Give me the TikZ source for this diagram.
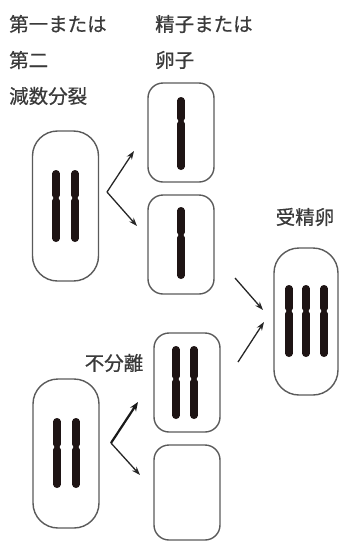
\documentclass[tikz,border=0pt]{standalone}
\usepackage{fontspec}
\setmainfont{Noto Sans CJK JP}[FakeBold=0.6]
\usetikzlibrary{arrows.meta}
\definecolor{chromcol}{HTML}{1E1414}
\definecolor{boxline}{HTML}{5A5A5A}
\definecolor{labelcol}{HTML}{3A3A3A}

% one chromosome: x, top, bottom, centromere (page units, y downward)
\newcommand\chromosome[4]{%
  \draw[line width=7.4pt, line cap=round, chromcol] (#1,#2+3.7) -- (#1,#3-3.7);
  \fill[white] (#1-3.9,#4-2.4) -- (#1-2.7,#4) -- (#1-3.9,#4+2.4) -- cycle;
  \fill[white] (#1+3.9,#4-2.4) -- (#1+2.7,#4) -- (#1+3.9,#4+2.4) -- cycle;
}

\begin{document}
\begin{tikzpicture}[x=1pt, y=-1pt,
  cellbox/.style={draw=boxline, line width=1.4pt, rounded corners=15pt,
    minimum width=66pt, minimum height=99pt, inner sep=0pt},
  bigcell/.style={cellbox, rounded corners=25pt, minimum height=150pt},
  label/.style={font=\fontsize{19.5pt}{20pt}\selectfont, text=labelcol,
    inner sep=0pt, anchor=west},
  arrowline/.style={line width=1.3pt, draw=black!85,
    -{Stealth[length=8.5pt, width=6pt]}},
  thickarrow/.style={line width=2.2pt, draw=black!90,
    -{Stealth[length=9pt, width=7pt]}}]

\useasboundingbox (0,0) rectangle (339,542);

% headings
\node[label] (h1a) at (9,24) {第一または};
\node[label] (h1b) at (9,60) {第二};
\node[label] (h1c) at (9,96) {減数分裂};
\node[label] (h2a) at (155,24) {精子または};
\node[label] (h2b) at (155,60) {卵子};
\node[label, anchor=center] (hz) at (305,217) {受精卵};
\node[label, anchor=center] (hn) at (114,363) {不分離};

% cells
\node[bigcell] (L1) at (65.5,206) {};
\node[cellbox] (S1) at (181,132.5) {};
\node[cellbox] (S2) at (181,244.5) {};
\node[bigcell, minimum height=149pt] (L2) at (66,453.5) {};
\node[cellbox] (N1) at (187,382.5) {};
\node[cellbox, minimum height=95pt] (N2) at (187,492.5) {};
\node[bigcell, minimum width=64pt, minimum height=147pt] (Z) at (306,321.5) {};

% chromosomes
\chromosome{56}{170}{242}{198}
\chromosome{75}{170}{242}{198}
\chromosome{181}{97}{170}{121}
\chromosome{181}{207}{279}{235}
\chromosome{57}{418}{488}{447}
\chromosome{76}{418}{488}{447}
\chromosome{176}{346}{419}{379}
\chromosome{194}{346}{419}{379}
\chromosome{289}{285}{357}{311}
\chromosome{306}{285}{357}{311}
\chromosome{324}{285}{357}{311}

% arrow end points
\coordinate (a1) at (107,192);
\coordinate (a1u) at (134,151);
\coordinate (a1d) at (137,226);
\coordinate (a2) at (111,443);
\coordinate (a2u) at (138,402);
\coordinate (a2d) at (140,475);
\coordinate (z1s) at (235,278);
\coordinate (z1e) at (263,310);
\coordinate (z2s) at (238,362);
\coordinate (z2e) at (264,322);

% arrows
\draw[arrowline] (a1) -- (a1u);
\draw[arrowline] (a1) -- (a1d);
\draw[thickarrow] (a2) -- (a2u);
\draw[arrowline] (a2) -- (a2d);
\draw[arrowline] (z1s) -- (z1e);
\draw[arrowline] (z2s) -- (z2e);
\end{tikzpicture}
\end{document}
